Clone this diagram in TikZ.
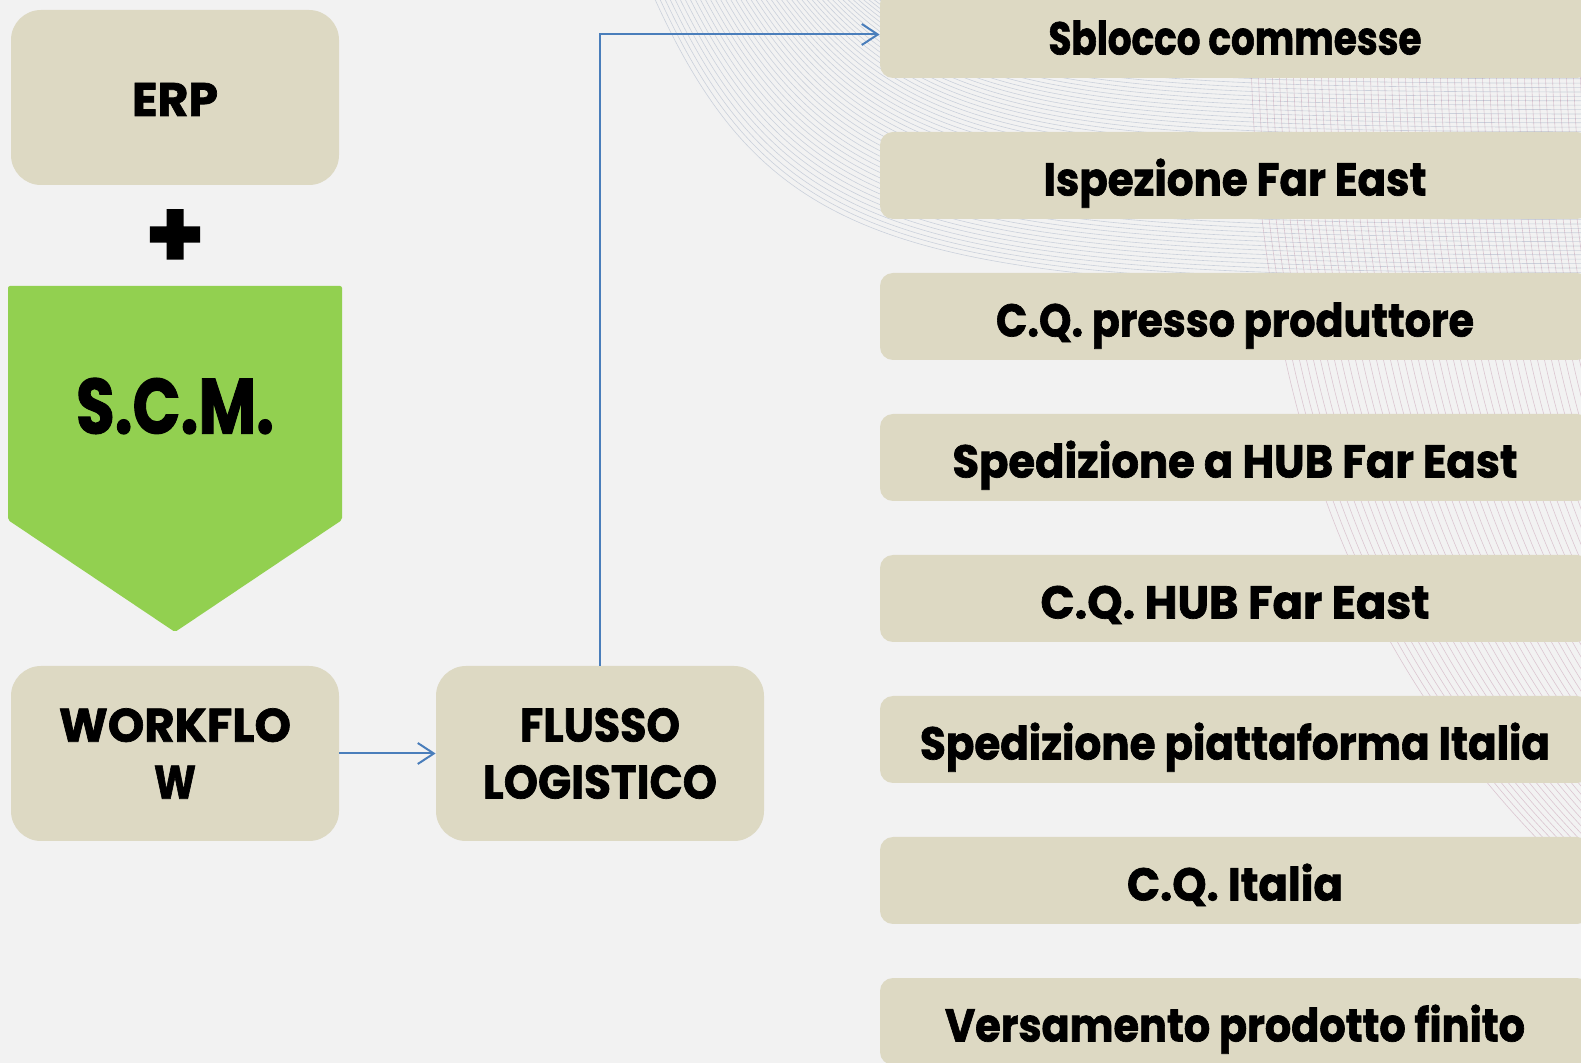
\documentclass[tikz,border=0pt]{standalone}
\usepackage{fontspec}
\setmainfont{Poppins}[BoldFeatures={FakeBold=1.5}]
\usetikzlibrary{arrows.meta}
\definecolor{bg}{HTML}{F2F2F2}
\definecolor{tan}{HTML}{DDD9C3}
\definecolor{scmgreen}{HTML}{92D050}
\definecolor{arrowblue}{HTML}{4A7EBB}
\definecolor{patblue}{HTML}{9AA8C0}
\definecolor{patpink}{HTML}{C090A8}
\newcommand{\fitto}[2]{\resizebox{#1}{\height}{#2}}
\begin{document}
\begin{tikzpicture}[x=0.5pt,y=-0.5pt,
 lbox/.style={rectangle, rounded corners=15pt, fill=tan, minimum width=164pt, minimum height=87.5pt, inner sep=0pt, align=center, font=\bfseries\fontsize{23.5}{28.5}\selectfont},
 rbox/.style={rectangle, rounded corners=6.5pt, fill=tan, minimum width=355pt, minimum height=43.5pt, inner sep=0pt, text height=20pt, text depth=0pt, font=\bfseries\fontsize{23}{28}\selectfont},
 flow/.style={draw=arrowblue, line width=1pt, -{Straight Barb[length=8pt,width=10.5pt]}},
 patA/.style={draw=patblue, line width=0.3pt, opacity=0.45},
 patB/.style={draw=patpink, line width=0.3pt, opacity=0.45}]
\useasboundingbox (0,0) rectangle (1581,1063);
\fill[bg] (0,0) rectangle (1581,1063);
% background pattern
\foreach \i in {0,...,50}{
  \pgfmathsetmacro\xo{653+250*\i/50}
  \pgfmathsetmacro\yh{290-220*\i/50}
  \draw[patA] (\xo,-5) .. controls (\xo+120,0.9*\yh) and (\xo+260,\yh) .. (1600,\yh);
}
\foreach \j in {0,...,50}{
  \pgfmathsetmacro\xs{1250+7*\j}
  \draw[patB] (\xs,-5) .. controls (\xs,450) and (\xs+130,700) .. (\xs+350,900);
}
% left column
\node[lbox, text height=18.5pt, text depth=0pt] (erp) at (175,97.5) {\fitto{43pt}{ERP}};
\node[font=\bfseries\fontsize{48}{48}\selectfont, inner sep=0pt] (plus) at (175,239) {+};
\fill[scmgreen, rounded corners=1pt] (8,286) -- (342,286) -- (342,520) -- (175,632) -- (8,520) -- cycle;
\node[font=\bfseries\fontsize{39}{39}\selectfont, inner sep=0pt] (scm) at (175,406) {\fitto{99pt}{S.C.M.}};
\node[lbox] (wf) at (175,753.5) {\fitto{116pt}{WORKFLO}\\\fitto{21pt}{W}};
\node[lbox] (fl) at (600,753.5) {\fitto{80pt}{FLUSSO}\\\fitto{117pt}{LOGISTICO}};
% right column
\node[rbox] (r1) at (1235,34.5) {\fitto{186.5pt}{Sblocco commesse}};
\node[rbox] (r2) at (1235,175.5) {\fitto{191.5pt}{Ispezione Far East}};
\node[rbox] (r3) at (1235,316.5) {\fitto{239pt}{C.Q. presso produttore}};
\node[rbox] (r4) at (1235,457.5) {\fitto{282.5pt}{Spedizione a HUB Far East}};
\node[rbox] (r5) at (1235,598.5) {\fitto{194.5pt}{C.Q. HUB Far East}};
\node[rbox] (r6) at (1235,739.5) {\fitto{315pt}{Spedizione piattaforma Italia}};
\node[rbox] (r7) at (1235,880.5) {\fitto{108pt}{C.Q. Italia}};
\node[rbox] (r8) at (1235,1021.5) {\fitto{290pt}{Versamento prodotto finito}};
% connectors
\draw[flow] (wf) -- (fl);
\draw[flow] (fl.north) |- (r1.west);
\end{tikzpicture}
\end{document}
